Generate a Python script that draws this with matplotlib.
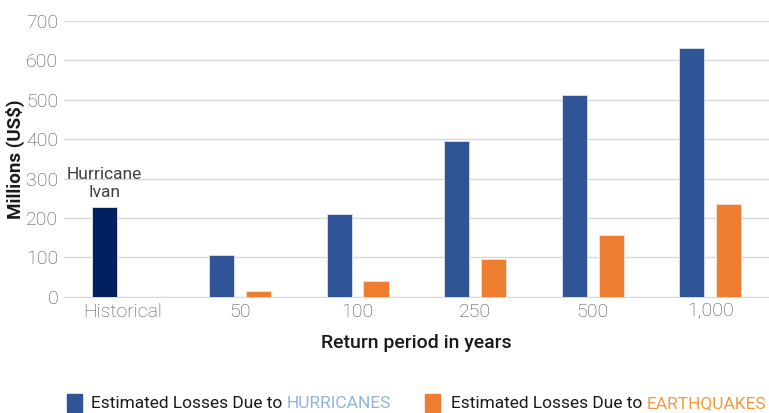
import matplotlib.pyplot as plt
import numpy as np

categories = ['Historical', '50', '100', '250', '500', '1,000']
hurricanes = [228, 106, 211, 396, 511, 630]
earthquakes = [np.nan, 16, 40, 95, 157, 236]

c_hur = '#2F5597'
c_hist = '#002060'
c_eq = '#ED7D31'
c_grid = '#D9D9D9'
c_tick = '#4d4d4d'

plt.rcParams['font.family'] = ['Roboto', 'DejaVu Sans']

fig = plt.figure(figsize=(7.69, 4.13), dpi=100)
ax = fig.add_axes([0.083, 0.281, 0.917, 0.669])

x = np.arange(len(categories))
width = 0.215
off = 0.157
colors = [c_hist] + [c_hur] * (len(categories) - 1)
ax.bar(x - off, hurricanes, width, color=colors, edgecolor='#DCE3F0', linewidth=0.6, zorder=3)
ax.bar(x + off, earthquakes, width, color=c_eq, edgecolor='#FBE3D4', linewidth=0.6, zorder=3)

ax.set_xlim(-0.5, len(categories) - 0.5)
ax.set_ylim(0, 700)
ax.set_yticks(range(0, 701, 100))
ax.set_xticks(x)
ax.set_xticklabels(categories)
ax.tick_params(axis='both', length=0, labelsize=14, labelcolor=c_tick, pad=4)
ax.tick_params(axis='x', pad=4)
for lab in ax.get_xticklabels() + ax.get_yticklabels():
    lab.set_fontweight('light')
ax.grid(True, axis='y', color=c_grid, linewidth=1, zorder=0)
for s in ['top', 'right', 'left']:
    ax.spines[s].set_visible(False)
ax.spines['bottom'].set_color(c_grid)

ax.set_ylabel('Millions (US$)', fontsize=13.5, fontweight='bold', color='#1a1a1a', labelpad=1)
ax.set_xlabel('Return period in years', fontsize=14, fontweight='medium', color='#1a1a1a', labelpad=10)

ax.text(x[0] - off, hurricanes[0] + 18, 'Hurricane\nIvan', ha='center', va='bottom',
        fontsize=12.5, color='#404040', linespacing=1.25)

# legend with two-colour labels
fig.patches.append(plt.Rectangle((67 / 769, 1 - 412 / 413), 15 / 769, 18 / 413,
                                 transform=fig.transFigure, color=c_hur))
fig.patches.append(plt.Rectangle((425 / 769, 1 - 412 / 413), 15 / 769, 18 / 413,
                                 transform=fig.transFigure, color=c_eq))
t1 = fig.text(91 / 769, 1 - 404 / 413, 'Estimated Losses Due to ', fontsize=12.5,
              color='#1a1a1a', va='center')
ax.annotate('HURRICANES', xy=(1, 0.5), xycoords=t1, va='center', fontsize=12.5,
            color='#8FB4DC', annotation_clip=False)
t2 = fig.text(451 / 769, 1 - 404 / 413, 'Estimated Losses Due to ', fontsize=12.5,
              color='#1a1a1a', va='center')
ax.annotate('EARTHQUAKES', xy=(1, 0.5), xycoords=t2, va='center', fontsize=12.5,
            color='#F59A3A', annotation_clip=False)

fig.savefig('out.png', dpi=100)
